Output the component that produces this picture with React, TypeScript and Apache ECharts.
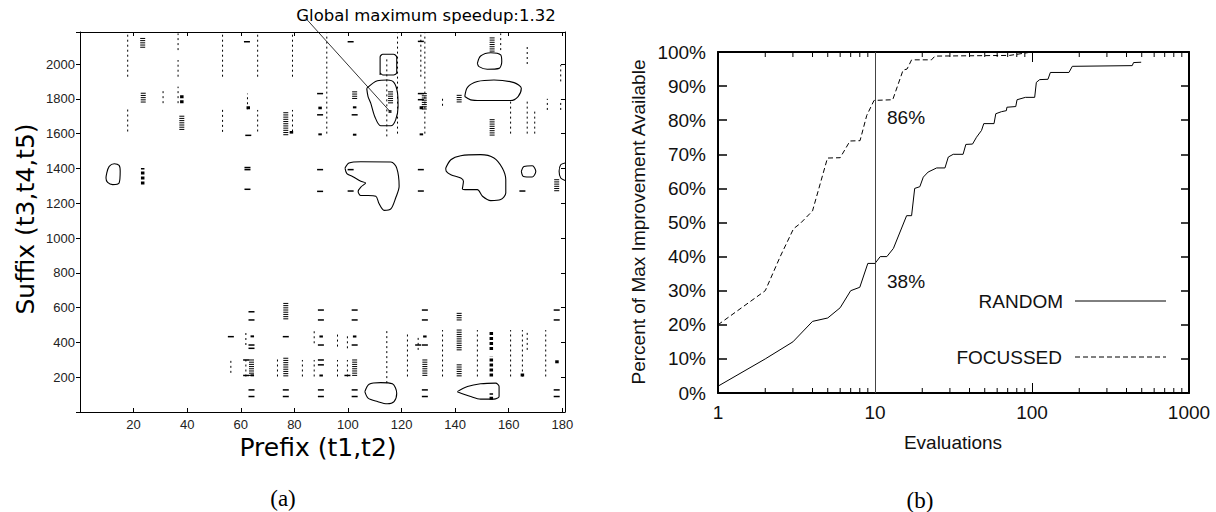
import React, { useEffect, useRef } from "react";
import * as echarts from "echarts";

// ---------------- Panel (b) data ----------------
const RANDOM_X = [1, 2, 3, 4, 5, 6, 7, 8, 9, 10, 10.8, 11.9, 13.1, 15.9, 17.1, 17.9, 19.3, 20.3, 21.8, 24.7, 27.9, 29.3, 31.5, 36.4, 37.9, 41.8, 44.3, 47.7, 49.3, 57.3, 58.8, 63.9, 68.7, 69.2, 78.8, 80.3, 90.8, 104, 106.6, 112, 126.4, 130.9, 171.9, 180.6, 434.9, 443.4, 495.9];
const RANDOM_Y = [2, 10, 15, 21, 22, 25, 30, 31, 38, 38, 40, 40, 42.4, 52, 52, 60, 60.5, 63.3, 64.8, 66, 66, 69.2, 70, 70, 72.9, 73, 75, 77, 79, 79, 81.9, 82.5, 82.8, 83.8, 84, 86, 86.7, 86.7, 91.1, 91.9, 92, 94, 94, 95.8, 96, 96.9, 97];
const FOCUSSED_X = [1, 2, 2.49, 3.03, 3.34, 4.0, 4.98, 6.0, 6.93, 8.03, 8.86, 9.86, 12.97, 15.1, 16, 17.1, 22.9, 24.1, 72, 100];
const FOCUSSED_Y = [20, 30, 40, 48.2, 49.7, 53.4, 68.9, 69, 73.9, 74, 81.4, 85.8, 86, 94.7, 95, 97.7, 97.7, 98.8, 99, 100];
const MINOR_TICKS_B = [2, 3, 4, 5, 6, 7, 8, 9, 20, 30, 40, 50, 60, 70, 80, 90, 200, 300, 400, 500, 600, 700, 800, 900];
const B_X_LABELS = [1, 10, 100, 1000];

// ---------------- Panel (a) data ----------------
const contourA = [[112, 1937], [112, 2040], [113, 2056], [117, 2056], [118.2, 2040], [118.2, 1950], [117, 1937], [113, 1937], [112, 1950]];
const contourB = [[107.0, 1860], [111.0, 1904], [114.7, 1908], [117.2, 1893], [118.5, 1832], [118.7, 1755], [117.8, 1679], [116.0, 1645], [112.2, 1645], [110.0, 1698], [108.5, 1775], [107.5, 1813], [107.0, 1860]];
const contourC = [[148.3, 2004], [149.5, 2046], [153.3, 2065], [157.0, 2052], [157.4, 2013], [156.4, 1975], [152.0, 1970], [148.9, 1985], [148.3, 2004]];
const contourD = [[143.6, 1813], [144.6, 1866], [148.3, 1899], [154.5, 1908], [162.0, 1893], [164.7, 1860], [163.5, 1813], [160.7, 1790], [149.5, 1790], [145.8, 1794], [143.6, 1813]];
const contourE = [[98.9, 1402], [100.4, 1431], [104.8, 1438], [116.0, 1437], [118.2, 1402], [119.1, 1297], [117.8, 1230], [116.0, 1167], [113.5, 1159], [111.6, 1198], [110.4, 1240], [107.5, 1244], [104.8, 1244], [103.8, 1268], [104.8, 1293], [106.6, 1316], [104.8, 1326], [101.7, 1354], [99.6, 1370], [98.9, 1402]];
const contourF = [[136.5, 1402], [138.4, 1450], [142.1, 1473], [149.5, 1479], [154.5, 1460], [157.6, 1402], [158.9, 1335], [158.9, 1259], [157.0, 1221], [153.3, 1215], [150.2, 1240], [148.3, 1278], [144.6, 1278], [142.7, 1282], [143.1, 1326], [142.1, 1345], [138.4, 1364], [136.7, 1383], [136.5, 1402]];
const contourG = [[164.7, 1383], [165.7, 1411], [168.8, 1415], [170.1, 1383], [168.8, 1351], [165.5, 1354], [164.7, 1383]];
const contourH = [[181, 1431], [179.4, 1421], [178.8, 1383], [179.4, 1345], [181, 1331]];
const contourI = [[10.0, 1374], [10.9, 1412], [12.8, 1427], [14.6, 1417], [15.0, 1383], [14.6, 1316], [12.2, 1307], [10.3, 1320], [9.7, 1345], [10.0, 1374]];
const contourJ = [[106.3, 117], [107.9, 160], [112.2, 169], [116.6, 162], [118.2, 108], [117.2, 60], [114.7, 47], [111.0, 60], [107.5, 80], [106.3, 117]];
const contourK = [[140.8, 117], [144.6, 146], [149.5, 162], [155.1, 166], [156.4, 146], [156.4, 89], [154.5, 74], [149.5, 74], [145.8, 89], [140.8, 117]];
const CONTOURS = [contourA, contourB, contourC, contourD, contourE, contourF, contourG, contourH, contourI, contourJ, contourK];

const MAX_POINT = [115.7, 1727];
const ANNOT_START = [84.3, 2262];

// vertical dashed runs [x, y0, y1]
const dashedMarks = [
  [17.8, 1927, 2176], [17.8, 1612, 1746], [31.0, 1775, 1851],
  [36.6, 2080, 2176], [36.6, 1927, 2023], [36.6, 1775, 1870],
  [53.2, 1927, 2176], [53.2, 1610, 1740], [62.5, 1740, 1830],
  [66.3, 1927, 2176], [66.3, 1612, 1736], [79.3, 1612, 1736], [79.3, 1927, 2176],
  [92.1, 1600, 2176], [114.5, 1584, 2042], [118.5, 1600, 2176], [127.2, 1927, 2176],
  [128.7, 1600, 2176], [135.3, 1760, 1810], [157.0, 2080, 2176], [160.7, 1600, 1790],
  [166.9, 2000, 2100], [166.9, 1600, 1790], [169.7, 1600, 1736], [174.4, 1736, 1800],
  [179.4, 1900, 1995], [179.4, 1736, 1794],
  [56.3, 225, 309], [61.9, 385, 462], [61.9, 204, 299], [73.7, 204, 309],
  [83.0, 204, 299], [87.4, 395, 471], [87.4, 204, 299], [96.1, 376, 452], [96.1, 204, 299],
  [99.8, 366, 452], [99.8, 204, 299], [114.5, 166, 471], [122.2, 204, 452], [126.2, 357, 433],
  [135.3, 204, 471], [148.3, 204, 471], [160.7, 204, 471], [165.1, 204, 471],
  [166.9, 357, 471], [173.8, 204, 471],
];
// heavy square runs [x, y0, y1]
const blockMarks = [
  [23.4, 1307, 1402], [38.0, 1775, 1830], [62.8, 1740, 1760], [78.9, 1600, 1615],
  [89.6, 1740, 1755], [89.6, 1590, 1600], [102.5, 1745, 1757], [102.5, 1588, 1598],
  [127.4, 1740, 1760], [127.4, 1590, 1600],
  [64.3, 429, 440], [64.3, 205, 215], [90.0, 428, 440], [90.0, 204, 215],
  [102.5, 428, 440], [128.7, 428, 440], [153.5, 357, 471], [153.5, 204, 320],
  [153.5, 70, 108], [165.1, 204, 225], [178.0, 280, 300],
];
// stacked short bars [x, y0, y1]
const hatchMarks = [
  [23.4, 2090, 2147], [23.6, 1775, 1832], [38.0, 1620, 1700], [76.8, 1590, 1720],
  [102.5, 1800, 1840], [115.9, 1770, 1840], [128.5, 1730, 1830], [141.5, 1775, 1820],
  [153.8, 2070, 2150], [153.8, 1590, 1680], [177.9, 1260, 1335],
  [76.8, 529, 624], [76.8, 204, 309], [64.0, 204, 299], [102.5, 204, 299],
  [128.7, 204, 299], [141.5, 529, 567], [141.5, 357, 471], [141.5, 204, 271],
];
// short horizontal dashes [x, y]
const tickMarks = [
  [62.3, 2128], [62.5, 1405], [62.5, 1393], [62.5, 1280], [62.8, 1590],
  [89.6, 1830], [89.6, 1708], [89.6, 1393], [89.6, 1268],
  [101.0, 2128], [101.0, 1393], [101.0, 1270], [102.5, 1708],
  [127.2, 2130], [127.2, 1830], [127.2, 1795], [127.2, 1393], [127.2, 1270], [165.1, 1270],
  [56.3, 433], [62.0, 299], [62.0, 210],
  [64.0, 576], [64.0, 529], [64.0, 385], [64.0, 366], [64.0, 127], [64.0, 89],
  [76.8, 433], [76.8, 127], [76.8, 89],
  [89.9, 586], [89.9, 529], [89.9, 385], [89.9, 299], [89.9, 271], [89.9, 127], [89.9, 89],
  [99.8, 210], [102.5, 586], [102.5, 529], [102.5, 385], [102.5, 127], [102.5, 89],
  [126.2, 385], [128.7, 586], [128.7, 529], [128.7, 385], [128.7, 127], [128.7, 89],
  [177.9, 586], [177.9, 529], [177.9, 127], [177.9, 89],
];

const A_X_MAX = 181;
const A_Y_MAX = 2184;

const zip = (xs: number[], ys: number[]) => xs.map((x, i) => [x, ys[i]]);

export default function App() {
  const ref = useRef<HTMLDivElement>(null);
  useEffect(() => {
    if (!ref.current) return;
    const chart = echarts.init(ref.current, undefined, { renderer: "svg" });
    const tickFontA = { fontFamily: "Liberation Sans", fontSize: 13, color: "#222" };
    const fontB = { fontFamily: "Liberation Sans", fontSize: 19, color: "#111" };
    const axisLineA = { show: true, onZero: false, lineStyle: { color: "#000", width: 1 } };
    const axisLineB = { show: true, onZero: false, lineStyle: { color: "#000", width: 2 } };

    const contourSeries = CONTOURS.map((c) => ({
      type: "line",
      xAxisIndex: 0,
      yAxisIndex: 0,
      data: c,
      symbol: "none",
      smooth: 0.3,
      silent: true,
      lineStyle: { color: "#000", width: 1.1 },
    }));

    const option: any = {
      animation: false,
      backgroundColor: "#fff",
      grid: [
        { left: 80, top: 32, width: 485, height: 380 },
        { left: 718, top: 52, width: 471, height: 341 },
      ],
      xAxis: [
        {
          type: "value", gridIndex: 0, min: 0, max: A_X_MAX, interval: 20,
          axisLine: axisLineA,
          axisTick: { show: true, inside: true, length: 4, lineStyle: { color: "#000" } },
          axisLabel: { ...tickFontA, margin: 6, formatter: (v: number) => (v === 0 || v % 20 !== 0 ? "" : String(v)) },
          splitLine: { show: false },
        },
        {
          type: "value", gridIndex: 0, position: "top", min: 0, max: A_X_MAX, interval: 20,
          axisLine: axisLineA,
          axisTick: { show: true, inside: true, length: 4, lineStyle: { color: "#000" } },
          axisLabel: { show: false },
          splitLine: { show: false },
        },
        {
          type: "log", logBase: 10, gridIndex: 1, min: 1, max: 1000,
          axisLine: axisLineB,
          axisTick: { show: true, inside: true, length: 10, lineStyle: { color: "#000", width: 1 } },
          axisLabel: { ...fontB, margin: 10, formatter: (v: number) => (B_X_LABELS.includes(Math.round(v)) ? String(Math.round(v)) : "") },
          splitLine: { show: false },
        },
        {
          type: "log", logBase: 10, gridIndex: 1, position: "top", min: 1, max: 1000,
          axisLine: axisLineB,
          axisTick: { show: true, inside: true, length: 10, lineStyle: { color: "#000", width: 1 } },
          axisLabel: { show: false },
          splitLine: { show: false },
        },
      ],
      yAxis: [
        {
          type: "value", gridIndex: 0, min: 0, max: A_Y_MAX, interval: 200,
          axisLine: axisLineA,
          axisTick: { show: true, inside: false, length: 4, lineStyle: { color: "#000" } },
          axisLabel: { ...tickFontA, margin: 5, formatter: (v: number) => (v === 0 || v % 200 !== 0 ? "" : String(v)) },
          splitLine: { show: false },
        },
        {
          type: "value", gridIndex: 0, position: "right", min: 0, max: A_Y_MAX, interval: 200,
          axisLine: axisLineA,
          axisTick: { show: true, inside: true, length: 4, lineStyle: { color: "#000" } },
          axisLabel: { show: false },
          splitLine: { show: false },
        },
        {
          type: "value", gridIndex: 1, min: 0, max: 100, interval: 10,
          axisLine: axisLineB,
          axisTick: { show: true, inside: true, length: 9, lineStyle: { color: "#000", width: 1.5 } },
          axisLabel: { ...fontB, margin: 12, formatter: "{value}%" },
          splitLine: { show: false },
        },
        {
          type: "value", gridIndex: 1, position: "right", min: 0, max: 100, interval: 10,
          axisLine: axisLineB,
          axisTick: { show: true, inside: true, length: 8, lineStyle: { color: "#000", width: 1.5 } },
          axisLabel: { show: false },
          splitLine: { show: false },
        },
      ],
      series: [
        // ----- panel (a) marks -----
        {
          type: "custom", xAxisIndex: 0, yAxisIndex: 0, silent: true,
          data: dashedMarks,
          encode: { x: 0, y: [1, 2] },
          renderItem: (_p: any, api: any) => {
            const a = api.coord([api.value(0), api.value(1)]);
            const b = api.coord([api.value(0), api.value(2)]);
            return {
              type: "line",
              shape: { x1: a[0], y1: a[1], x2: b[0], y2: b[1] },
              style: { stroke: "#000", lineWidth: 1, lineDash: [2, 3] },
            };
          },
        },
        {
          type: "custom", xAxisIndex: 0, yAxisIndex: 0, silent: true,
          data: blockMarks,
          encode: { x: 0, y: [1, 2] },
          renderItem: (_p: any, api: any) => {
            const a = api.coord([api.value(0), api.value(1)]);
            const b = api.coord([api.value(0), api.value(2)]);
            return {
              type: "line",
              shape: { x1: a[0], y1: a[1], x2: b[0], y2: Math.min(b[1], a[1] - 2) },
              style: { stroke: "#000", lineWidth: 3.5, lineDash: [3, 2] },
            };
          },
        },
        {
          type: "custom", xAxisIndex: 0, yAxisIndex: 0, silent: true,
          data: hatchMarks,
          encode: { x: 0, y: [1, 2] },
          renderItem: (_p: any, api: any) => {
            const a = api.coord([api.value(0), api.value(1)]);
            const b = api.coord([api.value(0), api.value(2)]);
            const children: any[] = [];
            for (let y = b[1]; y <= a[1]; y += 2.2) {
              children.push({
                type: "line",
                shape: { x1: a[0] - 2.5, y1: y, x2: a[0] + 2.5, y2: y },
                style: { stroke: "#000", lineWidth: 1 },
              });
            }
            return { type: "group", children };
          },
        },
        {
          type: "custom", xAxisIndex: 0, yAxisIndex: 0, silent: true,
          data: tickMarks,
          encode: { x: 0, y: 1 },
          renderItem: (_p: any, api: any) => {
            const c = api.coord([api.value(0), api.value(1)]);
            return {
              type: "line",
              shape: { x1: c[0] - 3, y1: c[1], x2: c[0] + 3, y2: c[1] },
              style: { stroke: "#000", lineWidth: 1.5 },
            };
          },
        },
        ...contourSeries,
        {
          type: "line", xAxisIndex: 0, yAxisIndex: 0, silent: true, clip: false,
          data: [ANNOT_START, MAX_POINT], symbol: "none",
          lineStyle: { color: "#000", width: 0.8 },
        },
        {
          type: "scatter", xAxisIndex: 0, yAxisIndex: 0, silent: true,
          data: [MAX_POINT], symbol: "rect", symbolSize: 3,
          itemStyle: { color: "#000" },
        },
        // ----- panel (b) -----
        {
          type: "custom", xAxisIndex: 2, yAxisIndex: 2, silent: true,
          data: MINOR_TICKS_B.map((v) => [v, 0]),
          encode: { x: 0, y: 1 },
          renderItem: (_p: any, api: any) => {
            const b = api.coord([api.value(0), 0]);
            const t = api.coord([api.value(0), 100]);
            return {
              type: "group",
              children: [
                { type: "line", shape: { x1: b[0], y1: b[1], x2: b[0], y2: b[1] - 5 }, style: { stroke: "#000", lineWidth: 1 } },
                { type: "line", shape: { x1: t[0], y1: t[1], x2: t[0], y2: t[1] + 5 }, style: { stroke: "#000", lineWidth: 1 } },
              ],
            };
          },
        },
        {
          name: "RANDOM", type: "line", xAxisIndex: 2, yAxisIndex: 2,
          data: zip(RANDOM_X, RANDOM_Y), symbol: "none",
          lineStyle: { color: "#000", width: 1 },
          markLine: {
            silent: true, symbol: "none", label: { show: false },
            lineStyle: { color: "#444", width: 1, type: "solid" },
            data: [{ xAxis: 10 }],
          },
        },
        {
          name: "FOCUSSED", type: "line", xAxisIndex: 2, yAxisIndex: 2,
          data: zip(FOCUSSED_X, FOCUSSED_Y), symbol: "none",
          lineStyle: { color: "#000", width: 1, type: [5, 3] },
        },
      ],
      graphic: [
        { type: "text", x: 25, y: 219, rotation: Math.PI / 2, style: { text: "Suffix (t3,t4,t5)", font: '25px "DejaVu Sans"', fill: "#000", align: "center", verticalAlign: "middle", textAlign: "center", textVerticalAlign: "middle" } },
        { type: "text", x: 318, y: 447, style: { text: "Prefix (t1,t2)", font: '25px "DejaVu Sans"', fill: "#000", align: "center", verticalAlign: "middle", textAlign: "center", textVerticalAlign: "middle" } },
        { type: "text", x: 426, y: 15, style: { text: "Global maximum speedup:1.32", font: '16.5px "DejaVu Sans"', fill: "#000", align: "center", verticalAlign: "middle", textAlign: "center", textVerticalAlign: "middle" } },
        { type: "text", x: 638, y: 222, rotation: Math.PI / 2, style: { text: "Percent of Max Improvement Available", font: '19px "Liberation Sans"', fill: "#111", align: "center", verticalAlign: "middle", textAlign: "center", textVerticalAlign: "middle" } },
        { type: "text", x: 953, y: 442, style: { text: "Evaluations", font: '19px "Liberation Sans"', fill: "#111", align: "center", verticalAlign: "middle", textAlign: "center", textVerticalAlign: "middle" } },
        { type: "text", x: 887, y: 117, style: { text: "86%", font: '19px "Liberation Sans"', fill: "#111", align: "left", verticalAlign: "middle", textAlign: "left", textVerticalAlign: "middle" } },
        { type: "text", x: 887, y: 281, style: { text: "38%", font: '19px "Liberation Sans"', fill: "#111", align: "left", verticalAlign: "middle", textAlign: "left", textVerticalAlign: "middle" } },
        { type: "text", x: 1063, y: 301, style: { text: "RANDOM", font: '19px "Liberation Sans"', fill: "#111", align: "right", verticalAlign: "middle", textAlign: "right", textVerticalAlign: "middle" } },
        { type: "text", x: 1062, y: 357, style: { text: "FOCUSSED", font: '19px "Liberation Sans"', fill: "#111", align: "right", verticalAlign: "middle", textAlign: "right", textVerticalAlign: "middle" } },
        { type: "line", shape: { x1: 1075, y1: 301, x2: 1166, y2: 301 }, style: { stroke: "#000", lineWidth: 1 } },
        { type: "line", shape: { x1: 1075, y1: 357, x2: 1166, y2: 357 }, style: { stroke: "#000", lineWidth: 1, lineDash: [5, 3] } },
        { type: "text", x: 283, y: 498, style: { text: "(a)", font: '23px "Liberation Serif"', fill: "#000", align: "center", verticalAlign: "middle", textAlign: "center", textVerticalAlign: "middle" } },
        { type: "text", x: 920, y: 500, style: { text: "(b)", font: '23px "Liberation Serif"', fill: "#000", align: "center", verticalAlign: "middle", textAlign: "center", textVerticalAlign: "middle" } },
      ],
    };
    chart.setOption(option);
    return () => chart.dispose();
  }, []);
  return <div ref={ref} style={{ position: "fixed", left: 0, top: 0, width: 1216, height: 512 }} />;
}
